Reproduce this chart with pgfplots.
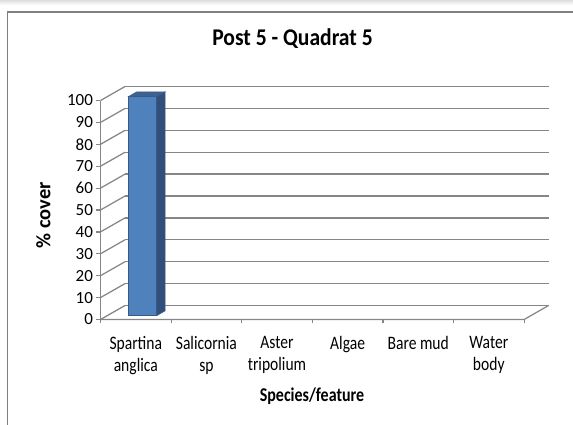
\documentclass[border=0pt]{standalone}
\usepackage{fontspec}
\setmainfont{Carlito}
\newfontfamily\condfont{Carlito}[FakeStretch=0.82]
\newfontfamily\titlefont{Carlito}[FakeStretch=0.9]
\usepackage{pgfplots}
\pgfplotsset{compat=1.18}
\definecolor{gridgray}{RGB}{134,134,134}
\definecolor{framegray}{RGB}{128,128,128}
\definecolor{barfront}{RGB}{79,129,189}
\definecolor{barside}{RGB}{49,79,122}
\definecolor{bartop}{RGB}{62,97,146}
\definecolor{baredge}{RGB}{56,90,136}
\pgfplotsset{g3d/.style={gridgray, line width=1.25pt, no markers, forget plot}}
\begin{document}
\begin{tikzpicture}
\useasboundingbox (-100.5pt,-105.5pt) rectangle (472.5pt,319.5pt);
\shade[top color=black!13, bottom color=white] (-100.5pt,314.5pt) rectangle (472.5pt,319.5pt);
\draw[framegray, line width=1.5pt] (-93.2pt,-108pt) -- (-93.2pt,307.7pt) -- (475pt,307.7pt);
\begin{axis}[
  anchor=south west,
  width=448.1pt, height=234.3pt, scale only axis,
  xmin=0, xmax=6.347, ymin=0, ymax=107,
  clip=false,
  axis x line*=bottom, axis y line*=left,
  axis line style={draw=none},
  tick align=outside,
  major tick length=4pt,
  tick style={draw=gridgray, line width=1.2pt},
  /pgf/number format/assume math mode=true,
  ytick={0,10,...,100},
  yticklabel style={font=\fontsize{17}{17}\selectfont},
  xtick={0,1,2,3,4,5,6},
  x tick label as interval,
  xticklabels={{Spartina\\anglica},{Salicornia\\sp},{Aster\\tripolium},{Algae},{Bare mud},{Water\\body}},
  xticklabel style={font=\condfont\fontsize{19}{22}\selectfont, align=center, anchor=north, yshift=-9pt},
  title={Post 5 - Quadrat 5},
  title style={font=\titlefont\bfseries\fontsize{24}{26}\selectfont, at={(axis description cs:0.4285,1.143)}, anchor=base},
  xlabel={Species/feature},
  xlabel style={font=\condfont\bfseries\fontsize{19.5}{20}\selectfont, at={(axis description cs:0.472,-0.3265)}, anchor=center},
  ylabel={\% cover},
  ylabel style={font=\bfseries\fontsize{20.5}{22}\selectfont, at={(axis description cs:-0.1277,0.446)}, anchor=center},
]
% back wall gridlines
\addplot[g3d] coordinates {(0.347,6.39) (6.347,6.39)};
\addplot[g3d] coordinates {(0.347,16.39) (6.347,16.39)};
\addplot[g3d] coordinates {(0.347,26.39) (6.347,26.39)};
\addplot[g3d] coordinates {(0.347,36.39) (6.347,36.39)};
\addplot[g3d] coordinates {(0.347,46.39) (6.347,46.39)};
\addplot[g3d] coordinates {(0.347,56.39) (6.347,56.39)};
\addplot[g3d] coordinates {(0.347,66.39) (6.347,66.39)};
\addplot[g3d] coordinates {(0.347,76.39) (6.347,76.39)};
\addplot[g3d] coordinates {(0.347,86.39) (6.347,86.39)};
\addplot[g3d] coordinates {(0.347,96.39) (6.347,96.39)};
\addplot[g3d] coordinates {(0.347,106.39) (6.347,106.39)};
% side wall gridlines
\addplot[g3d] coordinates {(0,0) (0.347,6.39)};
\addplot[g3d] coordinates {(0,10) (0.347,16.39)};
\addplot[g3d] coordinates {(0,20) (0.347,26.39)};
\addplot[g3d] coordinates {(0,30) (0.347,36.39)};
\addplot[g3d] coordinates {(0,40) (0.347,46.39)};
\addplot[g3d] coordinates {(0,50) (0.347,56.39)};
\addplot[g3d] coordinates {(0,60) (0.347,66.39)};
\addplot[g3d] coordinates {(0,70) (0.347,76.39)};
\addplot[g3d] coordinates {(0,80) (0.347,86.39)};
\addplot[g3d] coordinates {(0,90) (0.347,96.39)};
\addplot[g3d] coordinates {(0,100) (0.347,106.39)};
% floor edges and front axis
\addplot[g3d] coordinates {(0,0) (6,0) (6.347,6.39)};
\addplot[g3d] coordinates {(0,0) (0,100)};
% bar: Spartina anglica = 100 (all other categories 0)
\addplot[fill=barfront, draw=baredge, line width=0.6pt, forget plot] coordinates {(0.397,1.79) (0.797,1.79) (0.797,101.79) (0.397,101.79)} -- cycle;
\addplot[fill=barside, draw=baredge, line width=0.6pt, forget plot] coordinates {(0.797,1.79) (0.915,3.96) (0.915,103.96) (0.797,101.79)} -- cycle;
\addplot[fill=bartop, draw=baredge, line width=0.6pt, forget plot] coordinates {(0.397,101.79) (0.797,101.79) (0.915,103.96) (0.515,103.96)} -- cycle;
\end{axis}
\end{tikzpicture}
\end{document}
